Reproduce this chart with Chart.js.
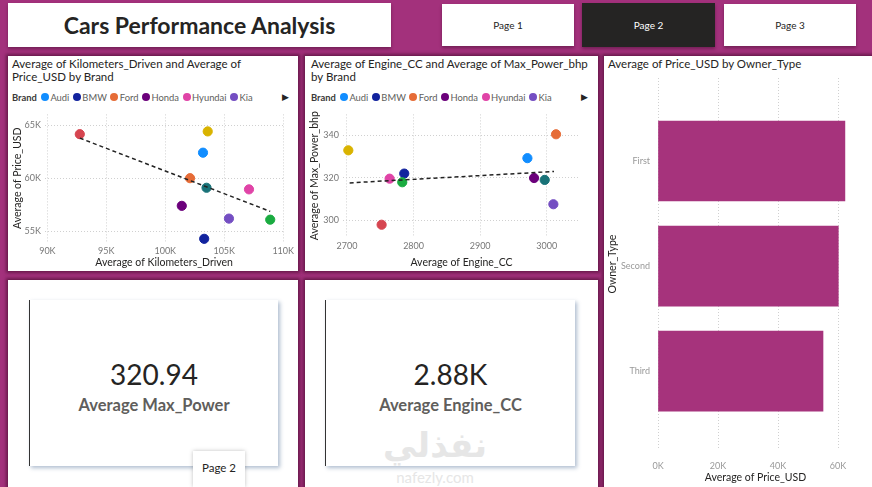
<!DOCTYPE html>
<html><head><meta charset="utf-8">
<script src="https://cdn.jsdelivr.net/npm/chart.js@4.4.1/dist/chart.umd.min.js"></script>
<style>
body{margin:0;width:872px;height:487px;background:#a3317c;position:relative;overflow:hidden;font-family:'Segoe UI',Lato,'Open Sans',sans-serif;color:#252423;}
.panel{position:absolute;background:#fff;box-shadow:0 0 3px 2px rgba(85,18,60,.75);}
.box{position:absolute;background:#fff;box-shadow:0 2px 3px rgba(60,10,40,.45);display:flex;align-items:center;justify-content:center;}
.ptitle{position:absolute;font-size:11.5px;line-height:13px;color:#252423;}
.legend{position:absolute;display:flex;align-items:center;font-size:9.4px;color:#605e5c;height:12px;white-space:nowrap;}
.legend b{color:#3b3a39;margin-right:4px;}
.legend .it{display:flex;align-items:center;margin-right:3.5px;}
.legend .dot{width:8px;height:8px;border-radius:50%;margin-right:1.5px;}
.card{position:absolute;background:#fff;border-left:1px solid #333;box-shadow:2px 2px 4px rgba(80,110,150,.45);text-align:center;}
.kv{position:absolute;left:0;right:0;font-size:28px;color:#252423;}
.kl{position:absolute;left:0;right:0;font-size:16.5px;font-weight:700;color:#605e5c;}
canvas{position:absolute;}
</style></head>
<body>
<!-- header -->
<div class="box" style="left:8px;top:3px;width:383px;height:44px;font-weight:700;font-size:23px;color:#252423;">Cars Performance Analysis</div>
<div class="box" style="left:442px;top:4px;width:132px;height:42px;font-size:10px;">Page 1</div>
<div class="box" style="left:582px;top:3px;width:133px;height:44px;font-size:10px;background:#252423;color:#fff;">Page 2</div>
<div class="box" style="left:724px;top:4px;width:132px;height:42px;font-size:10px;">Page 3</div>

<!-- panels -->
<div class="panel" style="left:8px;top:56px;width:290px;height:215px;"></div>
<div class="panel" style="left:305px;top:56px;width:293px;height:215px;"></div>
<div class="panel" style="left:604px;top:56px;width:272px;height:440px;"></div>
<div class="panel" style="left:8px;top:280px;width:290px;height:215px;"></div>
<div class="panel" style="left:305px;top:280px;width:293px;height:215px;"></div>

<div class="ptitle" style="left:12px;top:57px;width:282px;">Average of Kilometers_Driven and Average of Price_USD by Brand</div>
<div class="ptitle" style="left:311px;top:57px;width:286px;">Average of Engine_CC and Average of Max_Power_bhp by Brand</div>
<div class="ptitle" style="left:608px;top:57px;width:256px;">Average of Price_USD by Owner_Type</div>

<div class="legend" id="leg1" style="left:12px;top:91px;"></div>
<div class="legend" id="leg2" style="left:311px;top:91px;"></div>
<div style="position:absolute;left:282px;top:91px;font-size:9px;color:#252423;">&#9654;</div>
<div style="position:absolute;left:581px;top:91px;font-size:9px;color:#252423;">&#9654;</div>

<canvas id="c1" width="290" height="166" style="left:8px;top:105px;"></canvas>
<canvas id="c2" width="293" height="166" style="left:305px;top:105px;"></canvas>
<canvas id="c3" width="262" height="415" style="left:604px;top:72px;"></canvas>

<div class="card" style="left:29px;top:300px;width:248px;height:166px;">
  <div class="kv" id="kv1" style="top:57px;"></div>
  <div class="kl" id="kl1" style="top:95px;"></div>
</div>
<div class="card" style="left:325px;top:300px;width:249px;height:166px;">
  <div class="kv" id="kv2" style="top:57px;"></div>
  <div class="kl" id="kl2" style="top:95px;"></div>
</div>

<!-- watermark -->
<div style="position:absolute;left:378px;top:428px;width:114px;text-align:center;color:#e6e6e6;font-size:34px;font-weight:700;line-height:34px;font-family:'DejaVu Sans',sans-serif;">نفذلي</div>
<div style="position:absolute;left:378px;top:469px;width:114px;text-align:center;color:#e6e6e6;font-size:15px;line-height:16px;">nafezly.com</div>

<!-- tooltip -->
<div style="position:absolute;left:193px;top:451px;width:52px;height:36px;background:#fff;box-shadow:0 0 4px rgba(0,0,0,.25);font-size:11.5px;text-align:center;line-height:34px;color:#252423;">Page 2</div>

<script>
// ---- data ----
const brands = ['Audi','BMW','Ford','Honda','Hyundai','Kia','Mahindra','Mercedes','Nissan','Toyota'];
const brandColors = ['#118DFF','#12239E','#E66C37','#6B007B','#E044A7','#744EC2','#D9B300','#D64550','#197278','#1AAB40'];
const legendCount = 6;

const avgKmDriven = [103200,103300,102100,101400,107100,105400,103600,92750,103500,108900];
const avgPriceUSD = [62400,54300,60000,57400,58950,56200,64400,64140,59100,56100];
const trend1X = [92750,108900];
const trend1Y = [63770,56880];
const xTicks1 = [90000,95000,100000,105000,110000];
const yTicks1 = [55000,60000,65000];

const avgEngineCC = [2971,2786,3014,2981,2764,3010,2702,2752,2997,2783];
const avgMaxPower = [329.3,322,340.6,319.9,319.6,307.5,333,297.8,319,317.9];
const trend2X = [2704,3011];
const trend2Y = [317.6,323];
const xTicks2 = [2700,2800,2900,3000];
const yTicks2 = [300,320,340];

const ownerTypes = ['First','Second','Third'];
const avgPriceByOwner = [62300,60100,55000];
const xTicks3 = [0,20000,40000,60000];

const kpiValues = ['320.94','2.88K'];
const kpiLabels = ['Average Max_Power','Average Engine_CC'];

// ---- legends / cards ----
function buildLegend(id){
  const el=document.getElementById(id);
  let h='<b>Brand</b>';
  for(let i=0;i<legendCount;i++){
    h+='<span class="it"><span class="dot" style="background:'+brandColors[i]+'"></span>'+brands[i]+'</span>';
  }
  el.innerHTML=h;
}
buildLegend('leg1');buildLegend('leg2');
document.getElementById('kv1').textContent=kpiValues[0];
document.getElementById('kv2').textContent=kpiValues[1];
document.getElementById('kl1').textContent=kpiLabels[0];
document.getElementById('kl2').textContent=kpiLabels[1];

// ---- charts ----
const FONT="'Segoe UI',Lato,'Open Sans',sans-serif";
Chart.defaults.font.family=FONT;
Chart.defaults.animation=false;
const tickFont={size:9};
const titleFont={size:10.5};
const gridDotted={color:'#d0d0d0',drawTicks:false,lineWidth:1};
const borderDotted={display:false,dash:[1,2]};
const kfmt=v=>(v/1000)+'K';

function scatterCfg(xs,ys,tx,ty,xTicks,yTicks,xr,yr,xTitle,yTitle,xfmt,yfmt,dims){
  return {
    type:'scatter',
    data:{datasets:[
      {data:xs.map((x,i)=>({x:x,y:ys[i]})),pointBackgroundColor:brandColors,pointBorderColor:brandColors,pointRadius:4.6,pointHoverRadius:4.6,clip:false,order:2},
      {type:'line',data:tx.map((x,i)=>({x:x,y:ty[i]})),borderColor:'#222',borderWidth:1.5,borderDash:[4,3],pointRadius:0,fill:false,order:1,clip:false}
    ]},
    options:{
      responsive:false,
      layout:{padding:{top:dims.top,right:dims.right,left:0,bottom:0}},
      plugins:{legend:{display:false},tooltip:{enabled:false}},
      scales:{
        x:{type:'linear',min:xr[0],max:xr[1],grid:gridDotted,border:borderDotted,
           afterBuildTicks:s=>{s.ticks=xTicks.map(v=>({value:v}));},
           afterFit:s=>{s.height=dims.bottom;},
           ticks:{font:tickFont,color:'#777',padding:4,callback:xfmt,maxRotation:0},
           title:{display:true,text:xTitle,font:titleFont,color:'#252423',padding:{top:0,bottom:2}}},
        y:{type:'linear',min:yr[0],max:yr[1],grid:gridDotted,border:borderDotted,
           afterBuildTicks:s=>{s.ticks=yTicks.map(v=>({value:v}));},
           afterFit:s=>{s.width=dims.left;},
           ticks:{font:tickFont,color:'#777',padding:4,callback:yfmt},
           title:{display:true,text:yTitle,font:titleFont,color:'#252423',padding:{top:3,bottom:0}}}
      }
    }
  };
}

new Chart(document.getElementById('c1'),scatterCfg(avgKmDriven,avgPriceUSD,trend1X,trend1Y,xTicks1,yTicks1,
  [89800,110000],[54000,66000],'Average of Kilometers_Driven','Average of Price_USD',kfmt,kfmt,
  {left:37,top:8,right:11,bottom:29}));

new Chart(document.getElementById('c2'),scatterCfg(avgEngineCC,avgMaxPower,trend2X,trend2Y,xTicks2,yTicks2,
  [2694,3050],[292,350],'Average of Engine_CC','Average of Max_Power_bhp',v=>String(v),v=>String(v),
  {left:38,top:8,right:18,bottom:34}));

new Chart(document.getElementById('c3'),{
  type:'bar',
  data:{datasets:[{data:avgPriceByOwner.map((v,i)=>({x:v,y:i})),backgroundColor:'#A6337C',borderWidth:0,barThickness:80}]},
  options:{
    indexAxis:'y',responsive:false,
    layout:{padding:{top:6,right:13,left:0,bottom:0}},
    plugins:{legend:{display:false},tooltip:{enabled:false}},
    scales:{
      x:{type:'linear',min:0,max:65000,grid:gridDotted,border:borderDotted,
         afterBuildTicks:s=>{s.ticks=xTicks3.map(v=>({value:v}));},
         afterFit:s=>{s.height=37;},
         ticks:{font:tickFont,color:'#999',padding:11,callback:kfmt},
         title:{display:true,text:'Average of Price_USD',font:titleFont,color:'#252423',padding:{top:0,bottom:3}}},
      y:{type:'linear',reverse:true,offset:false,min:-0.79,max:2.75,grid:{display:false,offset:false},border:{display:false},
         afterBuildTicks:s=>{s.ticks=ownerTypes.map((c,i)=>({value:i}));},
         afterFit:s=>{s.width=54;},
         ticks:{font:tickFont,color:'#999',padding:0,callback:v=>ownerTypes[v]},
         title:{display:true,text:'Owner_Type',font:titleFont,color:'#252423',padding:{top:2,bottom:0}}}
    }
  }
});
</script>
</body></html>
